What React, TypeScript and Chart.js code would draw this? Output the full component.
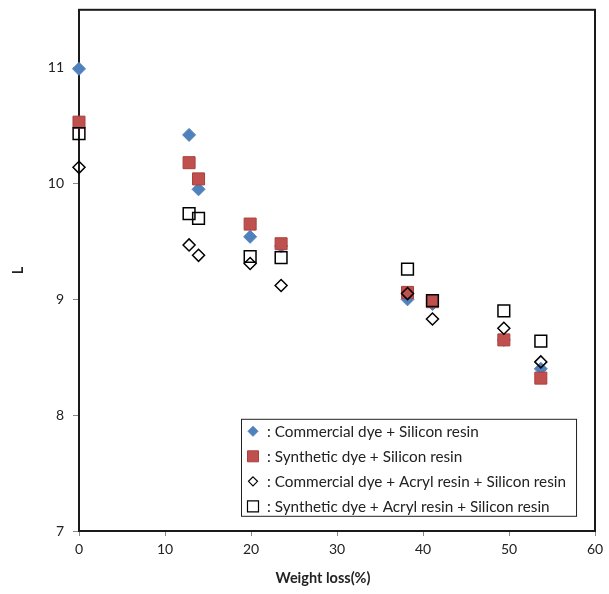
import React, { useEffect, useRef } from "react";
import { Chart, registerables } from "chart.js";

Chart.register(...registerables);

const weightLoss = [0, 12.8, 13.9, 19.9, 23.5, 38.2, 41.1, 49.4, 53.7];
const commercialSilicon = [10.99, 10.42, 9.95, 9.54, 9.46, 9.0, 8.96, 8.65, 8.4];
const syntheticSilicon = [10.53, 10.18, 10.04, 9.65, 9.48, 9.06, 8.98, 8.65, 8.32];
const commercialAcrylSilicon = [10.14, 9.47, 9.38, 9.31, 9.12, 9.05, 8.83, 8.75, 8.46];
const syntheticAcrylSilicon = [10.43, 9.74, 9.7, 9.37, 9.36, 9.26, 8.99, 8.9, 8.64];
const seriesLabels = [
  ": Commercial dye + Silicon resin",
  ": Synthetic dye + Silicon resin",
  ": Commercial dye + Acryl resin + Silicon resin",
  ": Synthetic dye + Acryl resin + Silicon resin",
];
const xTitle = "Weight loss(%)";
const yTitle = "L";

const FONT = "Lato, 'Open Sans', sans-serif";

function pts(ys: number[]) {
  return weightLoss.map((x, i) => ({ x, y: ys[i] }));
}

function drawMarker(ctx: CanvasRenderingContext2D, kind: string, x: number, y: number, r: number, fill: string, stroke: string, lw: number) {
  ctx.save();
  ctx.beginPath();
  if (kind === "diamond") {
    ctx.moveTo(x, y - r);
    ctx.lineTo(x + r, y);
    ctx.lineTo(x, y + r);
    ctx.lineTo(x - r, y);
    ctx.closePath();
  } else {
    ctx.rect(x - r, y - r, 2 * r, 2 * r);
  }
  if (fill !== "transparent") {
    ctx.fillStyle = fill;
    ctx.fill();
  }
  ctx.lineWidth = lw;
  ctx.strokeStyle = stroke;
  ctx.stroke();
  ctx.restore();
}

const framePlugin = {
  id: "frame",
  beforeDatasetsDraw(chart: any) {
    const { ctx, chartArea } = chart;
    ctx.save();
    ctx.strokeStyle = "#1a1a1a";
    ctx.lineWidth = 2;
    ctx.strokeRect(chartArea.left, chartArea.top, chartArea.right - chartArea.left, chartArea.bottom - chartArea.top);
    ctx.fillStyle = "#222";
    ctx.font = `bold 14.5px ${FONT}`;
    ctx.textAlign = "center";
    ctx.textBaseline = "middle";
    ctx.fillText(xTitle, (chartArea.left + chartArea.right) / 2 - 14, chartArea.bottom + 47);
    ctx.restore();
  },
};

const legendPlugin = {
  id: "boxLegend",
  afterDatasetsDraw(chart: any) {
    const { ctx, chartArea } = chart;
    const left = chartArea.left + 162;
    const top = chartArea.top + 409;
    const rowH = 25;
    ctx.save();
    ctx.font = `15.3px ${FONT}`;
    let maxW = 0;
    seriesLabels.forEach((t) => (maxW = Math.max(maxW, ctx.measureText(t).width)));
    const w = 27 + maxW + 9;
    const h = 97;
    ctx.fillStyle = "#fff";
    ctx.fillRect(left, top, w, h);
    ctx.strokeStyle = "#222";
    ctx.lineWidth = 1;
    ctx.strokeRect(left + 0.5, top + 0.5, w, h);
    const markers = [
      ["diamond", 5, "#4F81BD", "#4F81BD", 1],
      ["square", 5.5, "#C0504D", "#A8413E", 1],
      ["diamond", 4.5, "transparent", "#000", 1.2],
      ["square", 5.5, "transparent", "#000", 1.2],
    ];
    ctx.textBaseline = "middle";
    seriesLabels.forEach((t, i) => {
      const cy = top + 12.5 + i * rowH;
      const m: any = markers[i];
      drawMarker(ctx, m[0], left + 12, cy, m[1], m[2], m[3], m[4]);
      ctx.fillStyle = "#222";
      ctx.fillText(t, left + 26, cy + 1);
    });
    ctx.restore();
  },
};

export default function App() {
  const ref = useRef<HTMLCanvasElement | null>(null);
  useEffect(() => {
    document.body.style.margin = "0";
    const canvas = ref.current!;
    const tickFont = { family: FONT, size: 14 };
    const chart = new Chart(canvas, {
      type: "scatter",
      data: {
        datasets: [
          {
            label: seriesLabels[0],
            data: pts(commercialSilicon),
            pointStyle: "rectRot",
            pointRadius: 6.5,
            backgroundColor: "#4F81BD",
            borderColor: "#4F81BD",
            borderWidth: 1,
            order: 4,
            clip: false,
          },
          {
            label: seriesLabels[1],
            data: pts(syntheticSilicon),
            pointStyle: "rect",
            pointRadius: 8.5,
            backgroundColor: "#C0504D",
            borderColor: "#A8413E",
            borderWidth: 1,
            order: 3,
            clip: false,
          },
          {
            label: seriesLabels[2],
            data: pts(commercialAcrylSilicon),
            pointStyle: "rectRot",
            pointRadius: 6,
            backgroundColor: "transparent",
            borderColor: "#000",
            borderWidth: 1.5,
            order: 2,
            clip: false,
          },
          {
            label: seriesLabels[3],
            data: pts(syntheticAcrylSilicon),
            pointStyle: "rect",
            pointRadius: 8.3,
            backgroundColor: "transparent",
            borderColor: "#000",
            borderWidth: 1.5,
            order: 1,
            clip: false,
          },
        ] as any,
      },
      options: {
        animation: false,
        responsive: false,
        devicePixelRatio: 1,
        layout: { padding: { left: 0, top: 9, right: 14, bottom: 0 } },
        plugins: { legend: { display: false }, tooltip: { enabled: false } },
        scales: {
          x: {
            type: "linear",
            min: 0,
            max: 60,
            ticks: { stepSize: 10, font: tickFont, color: "#222", padding: 5, maxRotation: 0 },
            grid: { drawOnChartArea: false, tickLength: 5, color: "#888" },
            border: { display: false },
            title: { display: false },
            afterFit: (s: any) => {
              s.height = 63;
              s.paddingLeft = 0;
              s.paddingRight = 0;
            },
          },
          y: {
            type: "linear",
            min: 7,
            max: 11.5,
            ticks: { stepSize: 1, includeBounds: false, font: tickFont, color: "#222", padding: 9 },
            grid: { drawOnChartArea: false, tickLength: 6, color: "#888" },
            border: { display: false },
            title: {
              display: true,
              text: yTitle,
              color: "#222",
              font: { family: FONT, size: 14.5, weight: "bold" },
              padding: { top: 10, bottom: 4 },
            },
            afterFit: (s: any) => {
              s.width = 79;
              s.paddingTop = 0;
              s.paddingBottom = 0;
            },
          },
        },
      } as any,
      plugins: [framePlugin, legendPlugin],
    });
    return () => chart.destroy();
  }, []);
  return (
    <div style={{ width: 609, height: 594, background: "#fff" }}>
      <canvas ref={ref} width={609} height={594} style={{ width: 609, height: 594, display: "block" }} />
    </div>
  );
}
